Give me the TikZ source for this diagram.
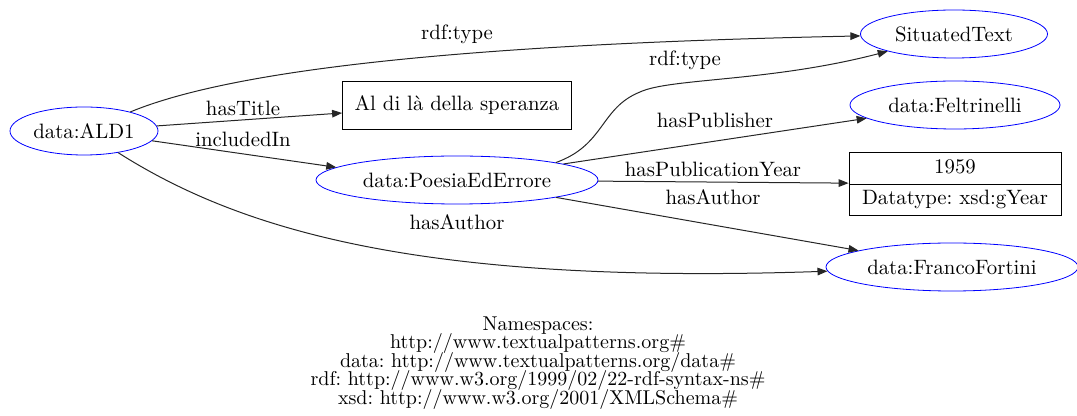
\documentclass[tikz,border=0pt]{standalone}
\usetikzlibrary{shapes.geometric,shapes.multipart,arrows.meta}
\frenchspacing
\newcommand\nsfont{\fontsize{10}{9.25}\selectfont\lineskiplimit=-5pt\relax}

\begin{document}
\begin{tikzpicture}[x=0.5pt, y=-0.5pt,
        every node/.style={font=\fontsize{10.4}{12.5}\selectfont},
        ent/.style={ellipse, draw=blue, inner sep=0pt, minimum height=24pt},
        lit/.style={rectangle, draw, inner sep=0pt, minimum height=24pt},
        lbl/.style={inner sep=0pt},
        edge/.style={draw=black!85, line width=0.5pt, -{Triangle[length=5pt,width=3.8pt]}}]
        \useasboundingbox (0,0) rectangle (1077,416);
        \node[ent, minimum width=74pt] (ald) at (84,131) {data:ALD1};
        \node[ent, minimum width=93.5pt] (situated) at (954,34) {SituatedText};
        \node[lit, minimum width=114.5pt] (title) at (457,105) {Al di là della speranza};
        \node[ent, minimum width=141pt] (poesia) at (457,180) {data:PoesiaEdErrore};
        \node[ent, minimum width=105pt] (feltrinelli) at (955,105) {data:Feltrinelli};
        \node[rectangle split, rectangle split parts=2, draw, text width=96pt, align=center,
              inner xsep=5pt, inner ysep=1.5pt] (year) at (955,184)
              {\strut 1959 \nodepart{two} \strut Datatype: xsd:gYear};
        \node[ent, minimum width=126pt] (fortini) at (952,267) {data:FrancoFortini};
        \node[lbl] (l-type1) at (457,34) {rdf:type};
        \node[lbl] (l-title) at (243,108) {hasTitle};
        \node[lbl] (l-incl) at (243,139) {includedIn};
        \node[lbl] (l-auth1) at (457,222) {hasAuthor};
        \node[lbl] (l-type2) at (685,60) {rdf:type};
        \node[lbl] (l-pub) at (715,120) {hasPublisher};
        \node[lbl] (l-year) at (713,169) {hasPublicationYear};
        \node[lbl] (l-auth2) at (713,197) {hasAuthor};
        \node[align=center, font=\nsfont] (ns) at (538,363)
              {Namespaces:\\ http://www.textualpatterns.org\#\\
               data: http://www.textualpatterns.org/data\#\\
               rdf: http://www.w3.org/1999/02/22-rdf-syntax-ns\#\\
               xsd: http://www.w3.org/2001/XMLSchema\#};
        \draw[edge] (ald) .. controls (220,75) and (420,45) .. (situated);
        \draw[edge] (ald) -- (title);
        \draw[edge] (ald) -- (poesia.174);
        \draw[edge] (ald) .. controls (240,230) and (420,285) .. (fortini);
        \draw[edge] (poesia.10) .. controls (605,145) and (600,108) .. (640,92)
              .. controls (670,78) and (770,82) .. (situated);
        \draw[edge] (poesia) -- (feltrinelli);
        \draw[edge] (poesia) -- (year);
        \draw[edge] (poesia) -- (fortini);
      \end{tikzpicture}
\end{document}
